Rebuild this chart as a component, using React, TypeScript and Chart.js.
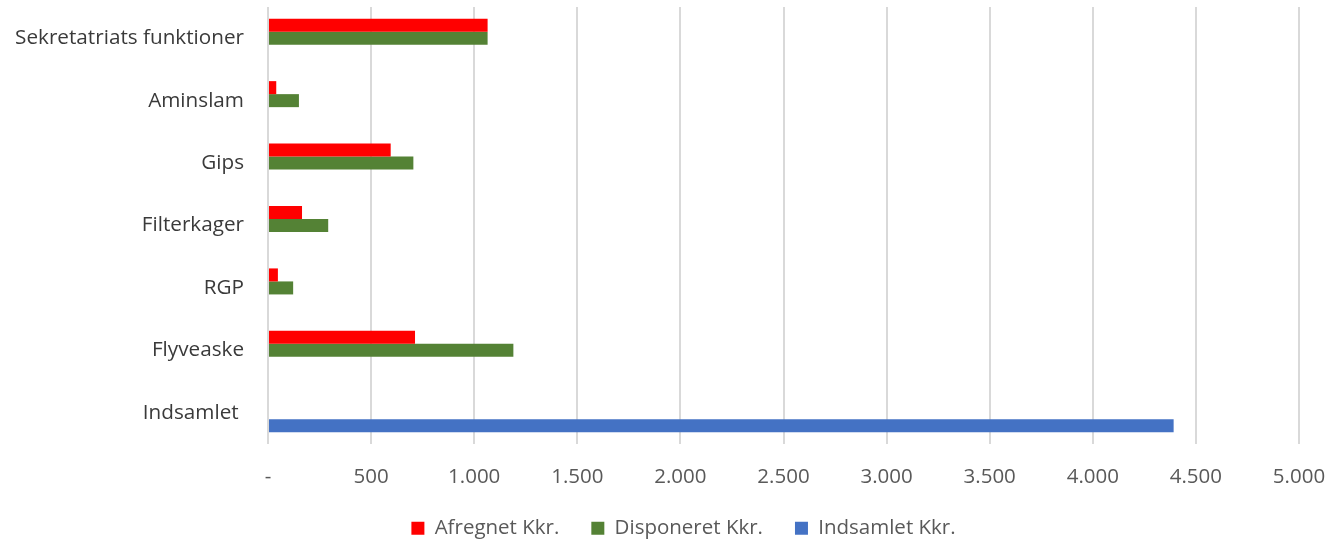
import React, { useEffect, useRef } from "react";
import { Chart, registerables } from "chart.js";

Chart.register(...registerables);

const categories = [
  "Sekretatriats funktioner",
  "Aminslam",
  "Gips",
  "Filterkager",
  "RGP",
  "Flyveaske",
  "Indsamlet ",
];
const afregnet = [1065, 40, 595, 165, 48, 713, null];
const disponeret = [1065, 150, 705, 292, 122, 1190, null];
const indsamlet = [null, null, null, null, null, null, 4392];
const xTickLabels = ["-", "500", "1.000", "1.500", "2.000", "2.500", "3.000", "3.500", "4.000", "4.500", "5.000"];

const FONT = "'Open Sans', sans-serif";

const legendTweak = {
  id: "legendTweak",
  beforeLayout(chart: any) {
    const lg = chart.legend;
    if (lg && !lg.__patched) {
      const orig = lg.fit;
      lg.fit = function (this: any) {
        orig.call(this);
        this.height = 58;
      };
      lg.__patched = true;
    }
  },
  afterLayout(chart: any) {
    const lg = chart.legend;
    if (lg) {
      lg.left += 34;
      lg.right += 34;
    }
  },
};

export default function App() {
  const ref = useRef<HTMLCanvasElement | null>(null);
  useEffect(() => {
    if (!ref.current) return;
    const chart = new Chart(ref.current, {
      type: "bar",
      data: {
        labels: categories,
        datasets: [
          { label: "Afregnet Kkr.", data: afregnet, backgroundColor: "#FF0000" },
          { label: "Disponeret Kkr.", data: disponeret, backgroundColor: "#548235" },
          { label: "Indsamlet Kkr.", data: indsamlet, backgroundColor: "#4472C4" },
        ],
      },
      options: {
        indexAxis: "y",
        animation: false,
        responsive: false,
        maintainAspectRatio: false,
        datasets: { bar: { categoryPercentage: 0.625, barPercentage: 1 } },
        layout: { padding: { top: 7, right: 32, left: 0, bottom: 0 } },
        scales: {
          x: {
            min: 0,
            max: 5000,
            afterFit: (s: any) => {
              s.height = 42;
              s.paddingLeft = 0;
              s.paddingRight = 0;
            },
            ticks: {
              stepSize: 500,
              padding: 21,
              color: "#595959",
              font: { family: FONT, size: 20.5 },
              maxRotation: 0,
              callback: (_v: any, i: number) => xTickLabels[i],
            },
            grid: { color: "#d9d9d9", lineWidth: 2, drawTicks: false },
            border: { display: false },
          },
          y: {
            afterFit: (s: any) => {
              s.width = 268;
              s.paddingTop = 0;
              s.paddingBottom = 0;
            },
            ticks: {
              padding: 24,
              color: "#3a3a3a",
              font: { family: FONT, size: 20.7 },
            },
            grid: { display: false, drawTicks: false },
            border: { display: false },
          },
        },
        plugins: {
          legend: {
            position: "bottom",
            labels: {
              boxWidth: 13,
              boxHeight: 13,
              padding: 32,
              color: "#595959",
              font: { family: FONT, size: 20.5 },
            },
          },
          tooltip: { enabled: false },
        },
      },
      plugins: [legendTweak],
    });
    return () => chart.destroy();
  }, []);
  return (
    <div style={{ position: "fixed", left: 0, top: 0, width: 1331, height: 544, background: "#fff" }}>
      <canvas ref={ref} width={1331} height={544} style={{ width: 1331, height: 544 }} />
    </div>
  );
}
